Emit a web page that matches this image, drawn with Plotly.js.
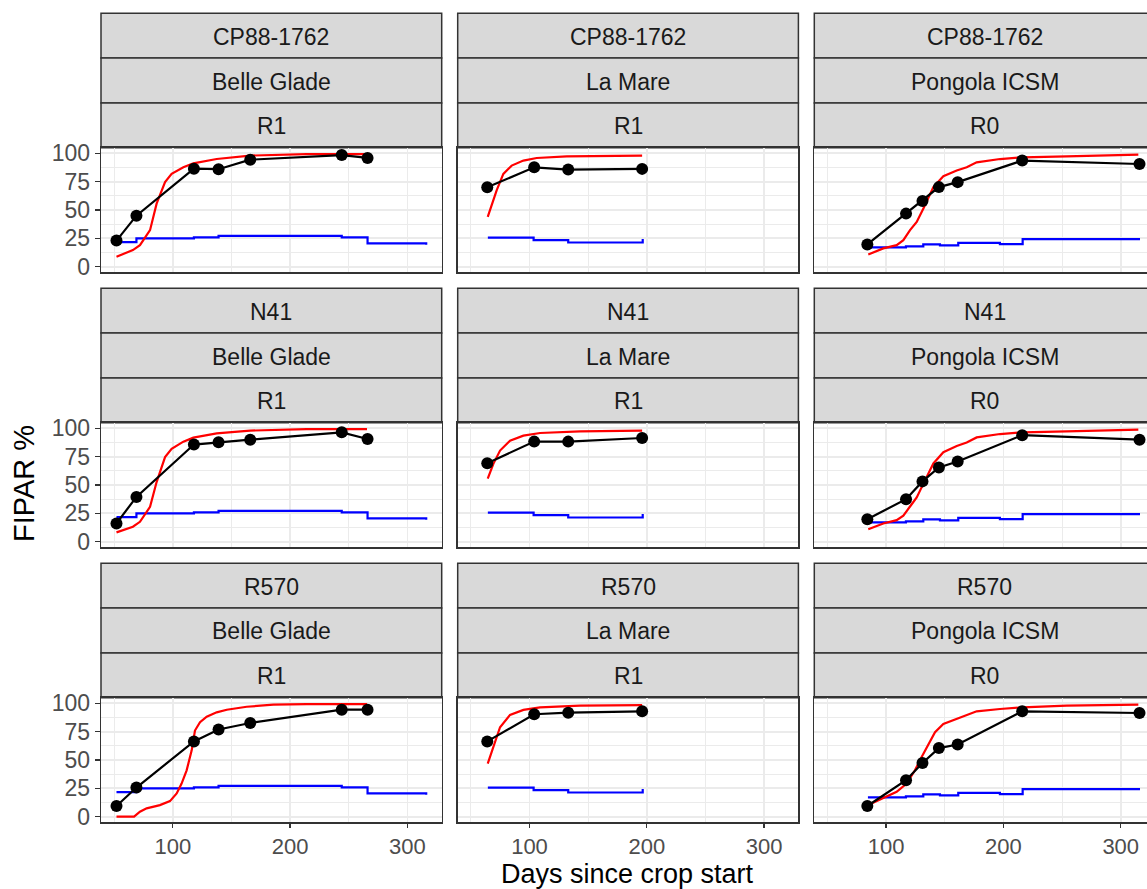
<!DOCTYPE html>
<html><head><meta charset="utf-8">
<script src="https://cdn.plot.ly/plotly-3.0.1.min.js"></script>
<style>html,body{margin:0;padding:0;overflow:hidden;background:#fff}</style>
</head><body><div id="chart" style="width:1156px;height:889px"></div>
<script>
// ---------- data ----------
const cultivars = ["CP88-1762", "N41", "R570"];
const sites = ["Belle Glade", "La Mare", "Pongola ICSM"];
const treatments = ["R1", "R1", "R0"];
const xTicks = [100, 200, 300];
const yTicks = [0, 25, 50, 75, 100];

// observed FIPAR (black points)
const obsDaysBG = [52, 69, 118, 139, 166, 244, 266];
const obsDaysLM = [64, 104, 133, 196];
const obsDaysPG = [84, 117, 131, 145, 161, 216, 316];
const obsCP88BG = [23, 45, 86.5, 86, 94.4, 98.5, 96];
const obsCP88LM = [70, 87.7, 85.7, 86.3];
const obsCP88PG = [19.6, 46.8, 57.9, 70.2, 74.6, 93.6, 90.6];
const obsN41BG = [16.1, 39.5, 85.7, 87.7, 90, 96.5, 90.6];
const obsN41LM = [69.3, 88.3, 88.3, 91.5];
const obsN41PG = [19.8, 37.5, 53.2, 65.5, 70.8, 94, 90];
const obsR570BG = [9.4, 25.7, 66.4, 76.9, 82.7, 94.4, 94.4];
const obsR570LM = [66.4, 90.4, 91.8, 93];
const obsR570PG = [9.4, 32.2, 47.4, 60.5, 63.7, 93, 91.5];

// simulated FIPAR (red lines)
const simDaysCP88BG = [52, 66, 72, 80.6, 86.2, 93.4, 99, 109, 117.5, 137.4, 165.8, 214, 265.5];
const simCP88BG = [8.8, 14.6, 19, 32.2, 55.6, 74.6, 81.9, 87.7, 91.2, 95, 98, 99.4, 99.4];
const simDaysN41BG = [52, 66, 72, 80.6, 86.2, 93.4, 99, 109, 117.5, 137.4, 165.8, 214, 265.5];
const simN41BG = [8.2, 13.2, 17.5, 30.7, 52.6, 74.6, 81.9, 88.3, 91.8, 95.6, 98, 99.4, 99.4];
const simDaysR570BG = [52, 67, 72, 77.7, 89, 97.6, 103.3, 107.5, 111.8, 116.1, 118.9, 123.2, 128.9, 137.4, 146, 163, 185.7, 214, 265.5];
const simR570BG = [0, 0, 4.4, 7.3, 10.2, 13.7, 20.5, 29.2, 40.9, 58.5, 76, 83.3, 88.3, 92.1, 94.4, 97, 98.8, 99.4, 99.4];
const simDaysCP88LM = [64.4, 67.8, 72, 77.7, 84.8, 94.8, 106.1, 131.7, 196];
const simCP88LM = [43.9, 54, 67.3, 81.9, 89.2, 93.6, 95.9, 97.4, 98];
const simDaysN41LM = [64.4, 69.2, 74.9, 83.4, 94.8, 109, 143.1, 196];
const simN41LM = [55.6, 68.7, 80.4, 89.2, 93.6, 95.9, 97.4, 98];
const simDaysR570LM = [64.4, 69.2, 74.9, 83.4, 94.8, 109, 143.1, 196];
const simR570LM = [46.8, 61.4, 78.9, 89.8, 94.2, 96.5, 98, 98.5];
const simDaysCP88PG = [84.8, 97.6, 109, 114.7, 120.4, 126.1, 131.7, 140.3, 148.8, 160.2, 168.7, 177.2, 197.1, 216.4, 253.9, 315];
const simCP88PG = [10.8, 16.1, 19, 23.4, 32.2, 39.5, 51.2, 70.2, 79.8, 84.8, 87.7, 92.1, 95, 96.5, 97.4, 98.8];
const simDaysN41PG = [84.8, 97.6, 109, 114.7, 120.4, 126.1, 131.7, 140.3, 148.8, 160.2, 168.7, 177.2, 197.1, 216.4, 253.9, 315];
const simN41PG = [11, 16, 19, 23, 31, 39, 51, 69, 79, 84.5, 87.5, 92, 95, 96.5, 97.4, 98.8];
const simDaysR570PG = [84.8, 97.6, 109, 117.5, 124.6, 130.3, 136, 141.7, 148.8, 160.2, 168.7, 177.2, 197.1, 216.4, 253.9, 315];
const simR570PG = [10.2, 16.1, 21.9, 29.2, 40.9, 52.6, 64.3, 74.6, 81.9, 86.3, 89.2, 93, 95, 96.5, 98, 98.8];

// blue step series (per site)
const stepDaysBG = [52, 69, 118, 139, 244, 266, 316];
const stepBG = [21.6, 24.9, 25.8, 27.2, 25.8, 20.5, 19.3];
const stepDaysLM = [64.5, 103.5, 133, 196.5];
const stepLM = [25.6, 23.4, 21.3, 24.3];
const stepDaysPG = [84.5, 116.9, 131.7, 145.9, 161.5, 197, 216.4, 316.4];
const stepPG = [17, 17.8, 19.6, 18.7, 21, 19.9, 24.3, 24.3];

// ---------- build ----------
const obsDays = [obsDaysBG, obsDaysLM, obsDaysPG];
const obsVals = [[obsCP88BG, obsCP88LM, obsCP88PG], [obsN41BG, obsN41LM, obsN41PG], [obsR570BG, obsR570LM, obsR570PG]];
const simDays = [[simDaysCP88BG, simDaysCP88LM, simDaysCP88PG], [simDaysN41BG, simDaysN41LM, simDaysN41PG], [simDaysR570BG, simDaysR570LM, simDaysR570PG]];
const simVals = [[simCP88BG, simCP88LM, simCP88PG], [simN41BG, simN41LM, simN41PG], [simR570BG, simR570LM, simR570PG]];
const stepDays = [stepDaysBG, stepDaysLM, stepDaysPG];
const stepVals = [stepBG, stepLM, stepPG];

const W = 1156, H = 889;
const colLeft = [101, 457.7, 814.3], panelW = 340.7;
const rowTop = [13.3, 288.3, 563.3], stripH = 44.8, panelOff = 134.4, panelH = 124.6;
const fx = p => p / W, fy = p => 1 - p / H;

const traces = [], shapes = [], annotations = [];
const layout = {
  width: W, height: H, margin: {l: 0, r: 0, t: 0, b: 0},
  paper_bgcolor: "#fff", plot_bgcolor: "#fff", showlegend: false,
  font: {family: "Liberation Sans, Arial, sans-serif"}
};

for (let r = 0; r < 3; r++) {
  for (let c = 0; c < 3; c++) {
    const i = r * 3 + c;
    const xs = i === 0 ? "x" : "x" + (i + 1), ys = i === 0 ? "y" : "y" + (i + 1);
    const xk = i === 0 ? "xaxis" : "xaxis" + (i + 1), yk = i === 0 ? "yaxis" : "yaxis" + (i + 1);
    const pTop = rowTop[r] + panelOff, pBot = pTop + panelH;
    layout[xk] = {
      domain: [fx(colLeft[c]), fx(colLeft[c] + panelW)], anchor: ys, range: [38.8, 329.2],
      tickmode: "array", tickvals: xTicks, showgrid: true, gridcolor: "#EBEBEB", gridwidth: 1.8,
      minor: {tickmode: "array", tickvals: [50, 150, 250], showgrid: true, gridcolor: "#EBEBEB", gridwidth: 1.0, ticks: ""},
      zeroline: false, showline: true, mirror: true, linecolor: "#333333", linewidth: 1.3,
      showticklabels: r === 2, ticks: r === 2 ? "outside" : "", ticklen: 4, tickwidth: 1.3, tickcolor: "#333333",
      tickfont: {size: 22, color: "#4D4D4D"}, fixedrange: true
    };
    layout[yk] = {
      domain: [fy(pBot), fy(pTop)], anchor: xs, range: [-5, 105],
      tickmode: "array", tickvals: yTicks, showgrid: true, gridcolor: "#EBEBEB", gridwidth: 1.8,
      minor: {tickmode: "array", tickvals: [12.5, 37.5, 62.5, 87.5], showgrid: true, gridcolor: "#EBEBEB", gridwidth: 1.0, ticks: ""},
      zeroline: false, showline: true, mirror: true, linecolor: "#333333", linewidth: 1.3,
      showticklabels: c === 0, ticks: c === 0 ? "outside" : "", ticklen: 5, tickwidth: 1.3, tickcolor: "#333333",
      tickfont: {size: 23, color: "#4D4D4D"}, fixedrange: true
    };
    traces.push({x: stepDays[c], y: stepVals[c], xaxis: xs, yaxis: ys, mode: "lines",
      line: {color: "#0000FF", width: 2.2, shape: "hv"}, hoverinfo: "skip"});
    traces.push({x: simDays[r][c], y: simVals[r][c], xaxis: xs, yaxis: ys, mode: "lines",
      line: {color: "#FF0000", width: 2.2}, hoverinfo: "skip"});
    traces.push({x: obsDays[c], y: obsVals[r][c], xaxis: xs, yaxis: ys, mode: "lines+markers",
      line: {color: "#000000", width: 2.2}, marker: {color: "#000000", size: 12}, hoverinfo: "skip"});
    const labels = [cultivars[r], sites[c], treatments[c]];
    for (let k = 0; k < 3; k++) {
      const t = rowTop[r] + k * stripH;
      shapes.push({type: "rect", xref: "paper", yref: "paper",
        x0: fx(colLeft[c]), x1: fx(colLeft[c] + panelW), y0: fy(t + stripH), y1: fy(t),
        fillcolor: "#D9D9D9", line: {color: "#333333", width: 1.5}, layer: "below"});
      annotations.push({xref: "paper", yref: "paper", x: fx(colLeft[c] + panelW / 2), y: fy(t + stripH / 2 + 1),
        text: labels[k], showarrow: false, xanchor: "center", yanchor: "middle",
        font: {size: 23, color: "#1A1A1A"}});
    }
  }
}
annotations.push({xref: "paper", yref: "paper", x: fx(627.5), y: fy(874), text: "Days since crop start",
  showarrow: false, xanchor: "center", yanchor: "middle", font: {size: 27, color: "#000000"}});
annotations.push({xref: "paper", yref: "paper", x: fx(24), y: fy(484), text: "FIPAR %", textangle: -90,
  showarrow: false, xanchor: "center", yanchor: "middle", font: {size: 29, color: "#000000"}});
layout.shapes = shapes;
layout.annotations = annotations;

Plotly.newPlot("chart", traces, layout, {staticPlot: true, displayModeBar: false});
</script>
</body></html>
